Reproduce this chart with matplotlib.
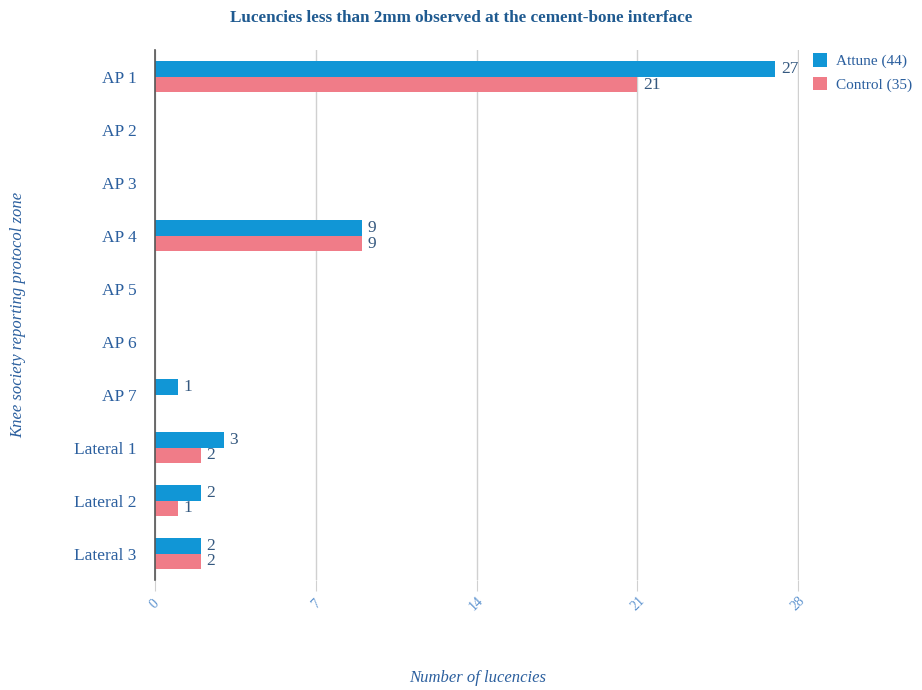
import matplotlib.pyplot as plt
import numpy as np

zones = ["AP 1", "AP 2", "AP 3", "AP 4", "AP 5", "AP 6", "AP 7",
         "Lateral 1", "Lateral 2", "Lateral 3"]
attune = [27, 0, 0, 9, 0, 0, 1, 3, 2, 2]
control = [21, 0, 0, 9, 0, 0, 0, 2, 1, 2]
series_labels = ["Attune (44)", "Control (35)"]
x_ticks = [0, 7, 14, 21, 28]

BLUE = "#1196d6"
PINK = "#f07c88"
TEXT_BLUE = "#2b5f9e"

plt.rcParams["font.family"] = ["Liberation Serif", "DejaVu Serif"]

fig = plt.figure(figsize=(9.22, 6.9), dpi=100)
ax = fig.add_axes([0.168, 0.159, 0.699, 0.768])

y = np.arange(len(zones))
h = 0.29
for vals, off, color, lab in [(attune, -h / 2, BLUE, series_labels[0]),
                              (control, h / 2, PINK, series_labels[1])]:
    shown = [v if v > 0 else np.nan for v in vals]
    ax.barh(y + off, shown, h, color=color, label=lab, zorder=3)
    for yi, v in zip(y, vals):
        if v > 0:
            ax.text(v + 0.25, yi + off, str(v), va="center", ha="left",
                    fontsize=12.5, color="#34587f", zorder=4)

ax.set_ylim(len(zones) - 0.5, -0.5)
ax.set_xlim(0, 28.05)
ax.set_yticks(y)
ax.set_yticklabels(zones, fontsize=12.5, color=TEXT_BLUE)
ax.set_xticks(x_ticks)
ax.set_xticklabels([str(t) for t in x_ticks], rotation=45, ha="center",
                   va="center", rotation_mode="anchor", fontsize=10,
                   color="#5d93cf")
ax.tick_params(axis="y", length=0, pad=13)
ax.tick_params(axis="x", length=8, color="#d0d0d0", pad=9)
ax.grid(axis="x", color="#d0d0d0", linewidth=1, zorder=0)
for s in ["top", "right", "bottom"]:
    ax.spines[s].set_visible(False)
ax.spines["left"].set_color("#555555")
ax.spines["left"].set_linewidth(1.2)
ax.spines["left"].set_zorder(5)

ax.set_xlabel("Number of lucencies", fontsize=12, style="italic",
              color=TEXT_BLUE)
ax.xaxis.set_label_coords(0.5, -0.17)
ax.set_ylabel("Knee society reporting protocol zone", fontsize=12,
              style="italic", color=TEXT_BLUE)
ax.yaxis.set_label_coords(-0.2, 0.5)

fig.suptitle("Lucencies less than 2mm observed at the cement-bone interface",
             x=0.5, y=0.985, fontsize=12.3, fontweight="bold",
             color="#1f5a90")

ax.legend(loc="upper left", bbox_to_anchor=(1.005, 1.015), frameon=False,
          fontsize=11, handlelength=0.9, handleheight=1.0,
          handletextpad=0.6, labelcolor=TEXT_BLUE, borderaxespad=0.3,
          labelspacing=0.55)

fig.savefig("out.png", dpi=100)
